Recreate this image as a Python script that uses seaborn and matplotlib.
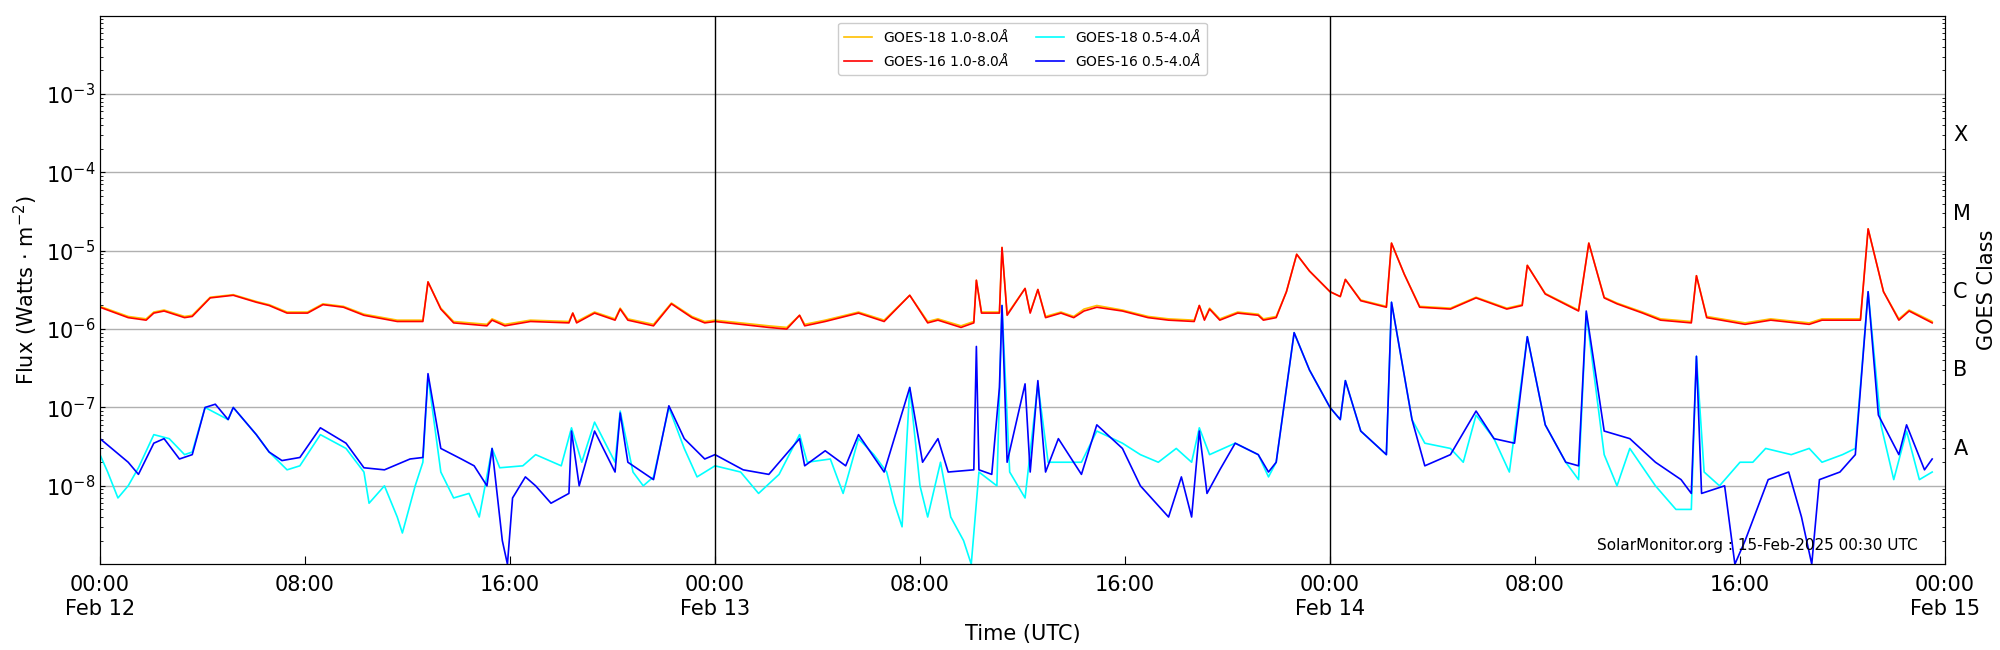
import numpy as np
import pandas as pd
import matplotlib
matplotlib.use("Agg")
import matplotlib.pyplot as plt
import seaborn as sns

# ---- data (hours since Feb 12 00:00 UTC, flux W/m^2) ----
long16_t = [0,1.1,1.8,2.1,2.5,3.3,3.6,4.3,5.2,6.1,6.6,7.3,8.1,8.7,9.5,10.3,11.6,12.6,12.8,13.3,13.8,15.1,15.3,15.8,16.8,18.3,18.45,18.6,19.3,20.1,20.3,20.6,21.6,22.3,23.1,23.6,
            24,26.1,26.8,27.3,27.5,28.3,29.6,30.6,31.6,32.3,32.7,33.6,34.1,34.2,34.4,35.1,35.2,35.4,36.1,36.3,36.6,36.9,37.5,38.0,38.4,38.9,39.9,40.9,41.7,42.7,42.9,43.1,43.3,43.7,44.4,45.2,45.4,45.9,46.3,46.7,47.2,
            48,48.4,48.6,49.2,50.2,50.4,50.9,51.5,52.7,53.7,54.9,55.5,55.7,56.4,57.7,58.1,58.7,59.2,60.2,60.9,62.1,62.3,62.7,64.2,65.2,66.7,67.2,68.7,69.0,69.6,70.2,70.6,71.5]
long16_v = [1.9e-6,1.4e-6,1.3e-6,1.6e-6,1.7e-6,1.4e-6,1.45e-6,2.5e-6,2.7e-6,2.2e-6,2.0e-6,1.6e-6,1.6e-6,2.05e-6,1.9e-6,1.5e-6,1.25e-6,1.25e-6,4.0e-6,1.8e-6,1.2e-6,1.1e-6,1.3e-6,1.1e-6,1.25e-6,1.2e-6,1.6e-6,1.2e-6,1.6e-6,1.3e-6,1.8e-6,1.3e-6,1.1e-6,2.1e-6,1.4e-6,1.2e-6,
            1.25e-6,1.05e-6,1.0e-6,1.5e-6,1.1e-6,1.25e-6,1.6e-6,1.25e-6,2.7e-6,1.2e-6,1.3e-6,1.05e-6,1.2e-6,4.2e-6,1.6e-6,1.6e-6,1.1e-5,1.5e-6,3.3e-6,1.6e-6,3.2e-6,1.4e-6,1.6e-6,1.4e-6,1.7e-6,1.9e-6,1.7e-6,1.4e-6,1.3e-6,1.25e-6,2.0e-6,1.3e-6,1.8e-6,1.3e-6,1.6e-6,1.5e-6,1.3e-6,1.4e-6,3.0e-6,9e-6,5.5e-6,
            3.0e-6,2.6e-6,4.3e-6,2.3e-6,1.9e-6,1.25e-5,5e-6,1.9e-6,1.8e-6,2.5e-6,1.8e-6,2.0e-6,6.5e-6,2.8e-6,1.7e-6,1.25e-5,2.5e-6,2.1e-6,1.6e-6,1.3e-6,1.2e-6,4.8e-6,1.4e-6,1.15e-6,1.3e-6,1.15e-6,1.3e-6,1.3e-6,1.9e-5,3e-6,1.3e-6,1.7e-6,1.2e-6]
long18_t = long16_t
long18_v = [1.95e-6,1.45e-6,1.35e-6,1.65e-6,1.75e-6,1.45e-6,1.5e-6,2.55e-6,2.75e-6,2.25e-6,2.05e-6,1.65e-6,1.65e-6,2.1e-6,1.95e-6,1.55e-6,1.3e-6,1.3e-6,4.0e-6,1.85e-6,1.25e-6,1.15e-6,1.35e-6,1.15e-6,1.3e-6,1.25e-6,1.6e-6,1.25e-6,1.65e-6,1.35e-6,1.85e-6,1.35e-6,1.15e-6,2.15e-6,1.45e-6,1.25e-6,
            1.3e-6,1.1e-6,1.05e-6,1.5e-6,1.15e-6,1.3e-6,1.65e-6,1.3e-6,2.7e-6,1.25e-6,1.35e-6,1.1e-6,1.25e-6,4.2e-6,1.65e-6,1.65e-6,1.1e-5,1.55e-6,3.3e-6,1.65e-6,3.2e-6,1.45e-6,1.65e-6,1.45e-6,1.8e-6,2.0e-6,1.75e-6,1.45e-6,1.35e-6,1.3e-6,2.0e-6,1.35e-6,1.85e-6,1.35e-6,1.65e-6,1.55e-6,1.35e-6,1.45e-6,3.0e-6,9e-6,5.5e-6,
            3.0e-6,2.6e-6,4.3e-6,2.35e-6,1.95e-6,1.25e-5,5e-6,1.95e-6,1.85e-6,2.55e-6,1.85e-6,2.05e-6,6.5e-6,2.85e-6,1.75e-6,1.25e-5,2.55e-6,2.15e-6,1.65e-6,1.35e-6,1.25e-6,4.8e-6,1.45e-6,1.2e-6,1.35e-6,1.2e-6,1.35e-6,1.35e-6,1.9e-5,3e-6,1.35e-6,1.75e-6,1.25e-6]

short16_t = [0,1.1,1.5,2.1,2.5,3.1,3.6,4.1,4.5,5.0,5.2,6.1,6.6,7.1,7.8,8.6,9.6,10.3,11.1,12.1,12.6,12.8,13.3,14.1,14.6,15.1,15.3,15.7,15.9,16.1,16.6,17.0,17.6,18.3,18.4,18.7,19.3,20.1,20.3,20.6,21.6,22.2,22.8,23.6,
             24,25.1,26.1,27.3,27.5,28.3,29.1,29.6,30.6,31.6,32.1,32.7,33.1,34.1,34.2,34.3,34.8,35.1,35.2,35.4,36.1,36.3,36.6,36.9,37.4,38.3,38.9,39.9,40.6,41.7,42.2,42.6,42.9,43.2,43.7,44.3,45.2,45.6,45.9,46.6,47.2,
             48,48.4,48.6,49.2,50.2,50.4,51.2,51.7,52.7,53.7,54.4,55.2,55.7,56.4,57.2,57.7,58.0,58.7,59.7,60.7,61.7,62.1,62.3,62.5,63.4,63.8,64.2,65.1,65.9,66.4,66.8,67.1,67.9,68.5,69.0,69.4,70.2,70.5,71.2,71.5]
short16_v = [4e-8,2e-8,1.4e-8,3.5e-8,4e-8,2.2e-8,2.5e-8,1.0e-7,1.1e-7,7e-8,1e-7,4.5e-8,2.7e-8,2.1e-8,2.3e-8,5.5e-8,3.5e-8,1.7e-8,1.6e-8,2.2e-8,2.3e-8,2.7e-7,3e-8,2.2e-8,1.8e-8,1.0e-8,3e-8,2e-9,1e-9,7e-9,1.3e-8,1e-8,6e-9,8e-9,5e-8,1e-8,5e-8,1.5e-8,8.5e-8,2e-8,1.2e-8,1.05e-7,4e-8,2.2e-8,
             2.5e-8,1.6e-8,1.4e-8,4e-8,1.8e-8,2.8e-8,1.8e-8,4.5e-8,1.5e-8,1.8e-7,2e-8,4e-8,1.5e-8,1.6e-8,6e-7,1.6e-8,1.4e-8,1.8e-7,2e-6,2e-8,2e-7,1.5e-8,2.2e-7,1.5e-8,4e-8,1.4e-8,6e-8,3e-8,1.0e-8,4e-9,1.3e-8,4e-9,5e-8,8e-9,1.6e-8,3.5e-8,2.5e-8,1.5e-8,2e-8,9e-7,3e-7,
             1e-7,7e-8,2.2e-7,5e-8,2.5e-8,2.2e-6,7e-8,1.8e-8,2.5e-8,9e-8,4e-8,3.5e-8,8e-7,6e-8,2e-8,1.8e-8,1.7e-6,5e-8,4e-8,2.0e-8,1.2e-8,8e-9,4.5e-7,8e-9,1e-8,1e-9,2e-9,1.2e-8,1.5e-8,4e-9,1e-9,1.2e-8,1.5e-8,2.5e-8,3e-6,8e-8,2.5e-8,6e-8,1.6e-8,2.2e-8]

short18_t = [0,0.3,0.7,1.1,1.5,2.1,2.7,3.3,3.6,4.1,5.0,5.2,6.1,6.6,7.3,7.8,8.6,9.6,10.3,10.5,11.1,11.6,11.8,12.3,12.6,12.8,13.3,13.8,14.4,14.8,15.3,15.6,16.5,17.0,18.0,18.4,18.8,19.3,20.1,20.3,20.8,21.2,21.6,22.2,22.8,23.3,
             24,25,25.7,26.5,27.3,27.6,28.5,29.0,29.6,30.2,30.7,31.0,31.3,31.6,32.0,32.3,32.8,33.2,33.7,34.0,34.3,35.0,35.2,35.5,36.1,36.6,37,38.3,38.9,39.9,40.6,41.3,42.0,42.6,42.9,43.3,44.3,45.2,45.6,45.9,46.6,47.2,
             48,48.4,48.6,49.2,50.2,50.4,51.2,51.7,52.7,53.2,53.7,54.4,55.0,55.7,56.4,57.2,57.7,58.0,58.7,59.2,59.7,60.7,61.5,62.1,62.3,62.6,63.2,64.0,64.5,65.0,66.0,66.7,67.2,68.0,68.5,69.0,69.5,70.0,70.5,71.0,71.5]
short18_v = [2.5e-8,1.5e-8,7e-9,1e-8,1.7e-8,4.5e-8,4e-8,2.5e-8,2.7e-8,1e-7,7e-8,1e-7,4.5e-8,2.7e-8,1.6e-8,1.8e-8,4.5e-8,3e-8,1.5e-8,6e-9,1e-8,4e-9,2.5e-9,1e-8,2e-8,2.5e-7,1.5e-8,7e-9,8e-9,4e-9,3e-8,1.7e-8,1.8e-8,2.5e-8,1.8e-8,5.5e-8,2e-8,6.5e-8,2e-8,9e-8,1.5e-8,1e-8,1.3e-8,1.0e-7,3e-8,1.3e-8,
             1.8e-8,1.5e-8,8e-9,1.4e-8,4.5e-8,2e-8,2.2e-8,8e-9,4e-8,2.5e-8,1.5e-8,6e-9,3e-9,1.8e-7,1e-8,4e-9,2e-8,4e-9,2e-9,1e-9,1.5e-8,1e-8,2e-6,1.5e-8,7e-9,2e-7,2e-8,2e-8,5e-8,3.5e-8,2.5e-8,2e-8,3e-8,2e-8,5.5e-8,2.5e-8,3.5e-8,2.5e-8,1.3e-8,2e-8,9e-7,3e-7,
             1e-7,7e-8,2.2e-7,5e-8,2.5e-8,2.2e-6,7e-8,3.5e-8,3e-8,2e-8,8e-8,4e-8,1.5e-8,8e-7,6e-8,2e-8,1.2e-8,1.6e-6,2.5e-8,1e-8,3e-8,1e-8,5e-9,5e-9,4.5e-7,1.5e-8,1e-8,2e-8,2e-8,3e-8,2.5e-8,3e-8,2e-8,2.5e-8,3e-8,3e-6,6e-8,1.2e-8,5e-8,1.2e-8,1.5e-8]

series_names = ["GOES-18 1.0-8.0$\\AA$", "GOES-16 1.0-8.0$\\AA$", "GOES-18 0.5-4.0$\\AA$", "GOES-16 0.5-4.0$\\AA$"]
series_colors = ["#FFC000", "red", "cyan", "blue"]
tick_hours = [0, 8, 16, 24, 32, 40, 48, 56, 64, 72]
tick_labels = ["00:00\nFeb 12", "08:00", "16:00", "00:00\nFeb 13", "08:00", "16:00", "00:00\nFeb 14", "08:00", "16:00", "00:00\nFeb 15"]
class_labels = ["A", "B", "C", "M", "X"]
class_pos = [10**-7.5, 10**-6.5, 10**-5.5, 10**-4.5, 10**-3.5]

frames = []
for name, t, v in zip(series_names, [long18_t, long16_t, short18_t, short16_t],
                      [long18_v, long16_v, short18_v, short16_v]):
    frames.append(pd.DataFrame({"hour": t, "flux": v, "series": name}))
df = pd.concat(frames, ignore_index=True)

fig = plt.figure(figsize=(20, 6.5), dpi=100)
ax = fig.add_axes([0.05, 0.132, 0.9225, 0.844])
sns.lineplot(data=df, x="hour", y="flux", hue="series", hue_order=series_names,
             palette=dict(zip(series_names, series_colors)), sort=False,
             estimator=None, linewidth=1.2, ax=ax)
ax.set_yscale("log")
ax.set_ylim(1e-9, 1e-2)
ax.set_xlim(0, 72)
ax.set_xticks(tick_hours)
ax.set_xticklabels(tick_labels, fontsize=15)
ax.set_yticks([1e-8, 1e-7, 1e-6, 1e-5, 1e-4, 1e-3])
ax.tick_params(axis="y", labelsize=15, direction="in", which="both")
ax.tick_params(axis="x", direction="in", length=6, pad=8)
ax.yaxis.grid(True, which="major", color="#b0b0b0", linewidth=1)
for d in [24, 48]:
    ax.axvline(d, color="black", linewidth=1)
ax.set_xlabel("Time (UTC)", fontsize=15)
ax.set_ylabel("Flux (Watts $\\cdot$ m$^{-2}$)", fontsize=15)
ax.legend(loc="upper center", ncol=2, fontsize=10, framealpha=1)
ax.text(0.985, 0.02, "SolarMonitor.org : 15-Feb-2025 00:30 UTC", transform=ax.transAxes,
        ha="right", va="bottom", fontsize=11)

ax2 = ax.twinx()
ax2.set_yscale("log")
ax2.set_ylim(1e-9, 1e-2)
ax2.set_yticks(class_pos)
ax2.set_yticklabels(class_labels, fontsize=15)
ax2.tick_params(axis="y", which="major", length=0, pad=6)
ax2.tick_params(axis="y", which="minor", direction="in")
ax2.set_ylabel("GOES Class", fontsize=15)
fig.savefig("out.png")
